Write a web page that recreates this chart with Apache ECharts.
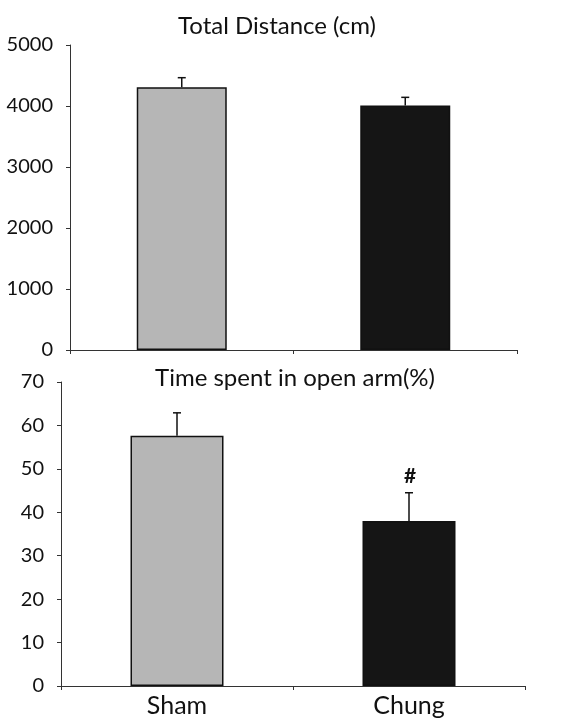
<!DOCTYPE html>
<html>
<head>
<meta charset="utf-8">
<script src="https://cdn.jsdelivr.net/npm/echarts@6/dist/echarts.min.js"></script>
<style>
html,body{margin:0;padding:0;background:#fff;}
#chart{width:572px;height:720px;}
</style>
</head>
<body>
<div id="chart"></div>
<script>
var categories = ['Sham', 'Chung'];
var distanceTitle = 'Total Distance (cm)';
var distanceMean = [4307, 4010];
var distanceSem = [157, 132];
var openArmTitle = 'Time spent in open arm(%)';
var openArmMean = [57.6, 38.0];
var openArmSem = [5.3, 6.5];
var openArmMarks = ['', '#'];
var barColors = ['#b6b6b6', '#151515'];

var FONT = 'Lato';
var chart = echarts.init(document.getElementById('chart'), null, {renderer: 'canvas'});

function errRender(marks) {
  return function (params, api) {
    var x = api.value(0), y = api.value(1), e = api.value(2);
    var base = api.coord([x, y]);
    var top = api.coord([x, y + e]);
    var cap = 4;
    var children = [
      {type: 'line', shape: {x1: base[0], y1: base[1], x2: top[0], y2: top[1]}, style: {stroke: '#111', lineWidth: 1.5}},
      {type: 'line', shape: {x1: top[0] - cap, y1: top[1], x2: top[0] + cap, y2: top[1]}, style: {stroke: '#111', lineWidth: 1.5}}
    ];
    if (marks && marks[params.dataIndex]) {
      children.push({type: 'text', x: top[0] + 1, y: top[1] - 6, style: {text: marks[params.dataIndex], fill: '#111', font: 'bold 21px ' + FONT, align: 'center', verticalAlign: 'bottom'}});
    }
    return {type: 'group', children: children};
  };
}

function barData(vals) {
  return vals.map(function (v, i) {
    return {value: v, itemStyle: {color: barColors[i]}};
  });
}

var axisLine = {show: true, lineStyle: {color: '#333', width: 1}};
var axisTick = {show: true, length: 4, lineStyle: {color: '#333'}};
var yLabel = {fontFamily: FONT, fontSize: 20, color: '#111', margin: 17, formatter: function (v) { return String(v); }};

chart.setOption({
  animation: false,
  backgroundColor: '#fff',
  title: [
    {text: distanceTitle, left: 272, top: 9, textAlign: 'center', textStyle: {fontFamily: FONT, fontSize: 24, fontWeight: 'normal', color: '#111'}},
    {text: openArmTitle, left: 290, top: 361, textAlign: 'center', textStyle: {fontFamily: FONT, fontSize: 24, fontWeight: 'normal', color: '#111'}}
  ],
  grid: [
    {left: 70, right: 55, top: 45, bottom: 370},
    {left: 61, right: 47, top: 382, bottom: 34}
  ],
  xAxis: [
    {type: 'category', gridIndex: 0, data: categories, axisLine: axisLine, axisTick: axisTick, axisLabel: {show: false}},
    {type: 'category', gridIndex: 1, data: categories, axisLine: axisLine, axisTick: axisTick,
     axisLabel: {fontFamily: FONT, fontSize: 25, color: '#111', margin: 7}}
  ],
  yAxis: [
    {type: 'value', gridIndex: 0, min: 0, max: 5000, interval: 1000, splitLine: {show: false}, axisLine: axisLine, axisTick: axisTick, axisLabel: yLabel},
    {type: 'value', gridIndex: 1, min: 0, max: 70, interval: 10, splitLine: {show: false}, axisLine: axisLine, axisTick: axisTick, axisLabel: yLabel}
  ],
  series: [
    {type: 'bar', xAxisIndex: 0, yAxisIndex: 0, barWidth: 90, data: barData(distanceMean),
     itemStyle: {borderColor: '#111', borderWidth: 1.5}},
    {type: 'custom', xAxisIndex: 0, yAxisIndex: 0, renderItem: errRender(null), z: 5,
     data: distanceMean.map(function (v, i) { return [i, v, distanceSem[i]]; })},
    {type: 'bar', xAxisIndex: 1, yAxisIndex: 1, barWidth: 93, data: barData(openArmMean),
     itemStyle: {borderColor: '#111', borderWidth: 1.5}},
    {type: 'custom', xAxisIndex: 1, yAxisIndex: 1, renderItem: errRender(openArmMarks), z: 5,
     data: openArmMean.map(function (v, i) { return [i, v, openArmSem[i]]; })}
  ]
});
</script>
</body>
</html>
